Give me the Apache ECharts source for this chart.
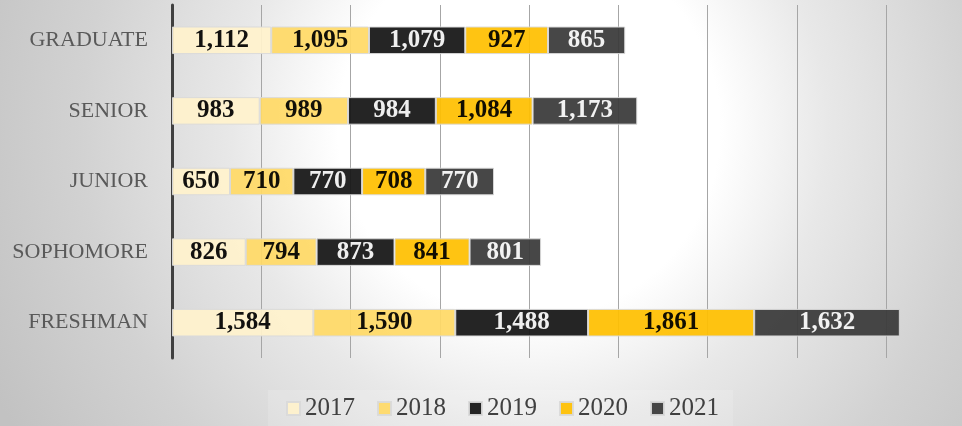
<!DOCTYPE html>
<html>
<head>
<meta charset="utf-8">
<title>Enrollment by class</title>
<script src="https://cdn.jsdelivr.net/npm/echarts@6/dist/echarts.min.js"></script>
<style>
  html, body { margin: 0; padding: 0; }
  #chart { width: 962px; height: 426px; }
</style>
</head>
<body>
<div id="chart"></div>
<script>
// categories bottom -> top
const classes = ['FRESHMAN', 'SOPHOMORE', 'JUNIOR', 'SENIOR', 'GRADUATE'];
const years = ['2017', '2018', '2019', '2020', '2021'];

const y2017 = [1584, 826, 650, 983, 1112];
const y2018 = [1590, 794, 710, 989, 1095];
const y2019 = [1488, 873, 770, 984, 1079];
const y2020 = [1861, 841, 708, 1084, 927];
const y2021 = [1632, 801, 770, 1173, 865];

const yearData = [y2017, y2018, y2019, y2020, y2021];
const colors = ['#FFF2CC', '#FFD966', '#141414', '#FFC000', '#393939'];
const labelColors = ['#000', '#000', '#fff', '#000', '#fff'];

const serif = '"Liberation Serif", "DejaVu Serif", serif';

const chart = echarts.init(document.getElementById('chart'));

let series = years.map((y, i) => ({
  name: y,
  type: 'bar',
  stack: 'total',
  barWidth: '39%',
  clip: false, // freshman total runs past the last gridline
  data: yearData[i],
  itemStyle: {
    color: colors[i],
    opacity: 0.93,
    borderColor: '#d9d9d9',
    borderWidth: 1
  },
  label: {
    show: true,
    position: 'inside',
    color: labelColors[i],
    fontFamily: serif,
    fontWeight: 'bold',
    fontSize: 25,
    formatter: (p) => p.value.toLocaleString('en-US')
  }
}));

chart.setOption({
  backgroundColor: {
    type: 'radial',
    x: 0.55, y: 0.3, r: 1.4,
    colorStops: [
      { offset: 0, color: '#ffffff' },
      { offset: 0.32, color: '#ffffff' },
      { offset: 0.5, color: '#e8e8e8' },
      { offset: 0.75, color: '#d2d2d2' },
      { offset: 1, color: '#c2c2c2' }
    ]
  },
  color: colors,
  animation: false,
  grid: {
    left: 172,
    right: 76,
    top: 5,
    bottom: 68
  },
  legend: {
    data: years,
    left: 268,
    top: 390,
    icon: 'rect',
    itemWidth: 13,
    itemHeight: 13,
    itemGap: 22,
    padding: [6, 14, 6, 18],
    backgroundColor: 'rgba(255,255,255,0.15)',
    textStyle: {
      fontFamily: serif,
      fontSize: 25,
      color: '#404040'
    }
  },
  xAxis: {
    type: 'value',
    min: 0,
    max: 8000,
    interval: 1000,
    axisLine: { show: false },
    axisTick: { show: false },
    axisLabel: { show: false },
    splitLine: { lineStyle: { color: '#a6a6a6', width: 1 } }
  },
  yAxis: {
    type: 'category',
    data: classes,
    axisLine: { show: true, lineStyle: { color: '#404040', width: 3 } },
    axisTick: { show: false },
    axisLabel: {
      margin: 24,
      fontFamily: serif,
      fontSize: 22,
      color: '#595959'
    }
  },
  series: series
});
</script>
</body>
</html>
